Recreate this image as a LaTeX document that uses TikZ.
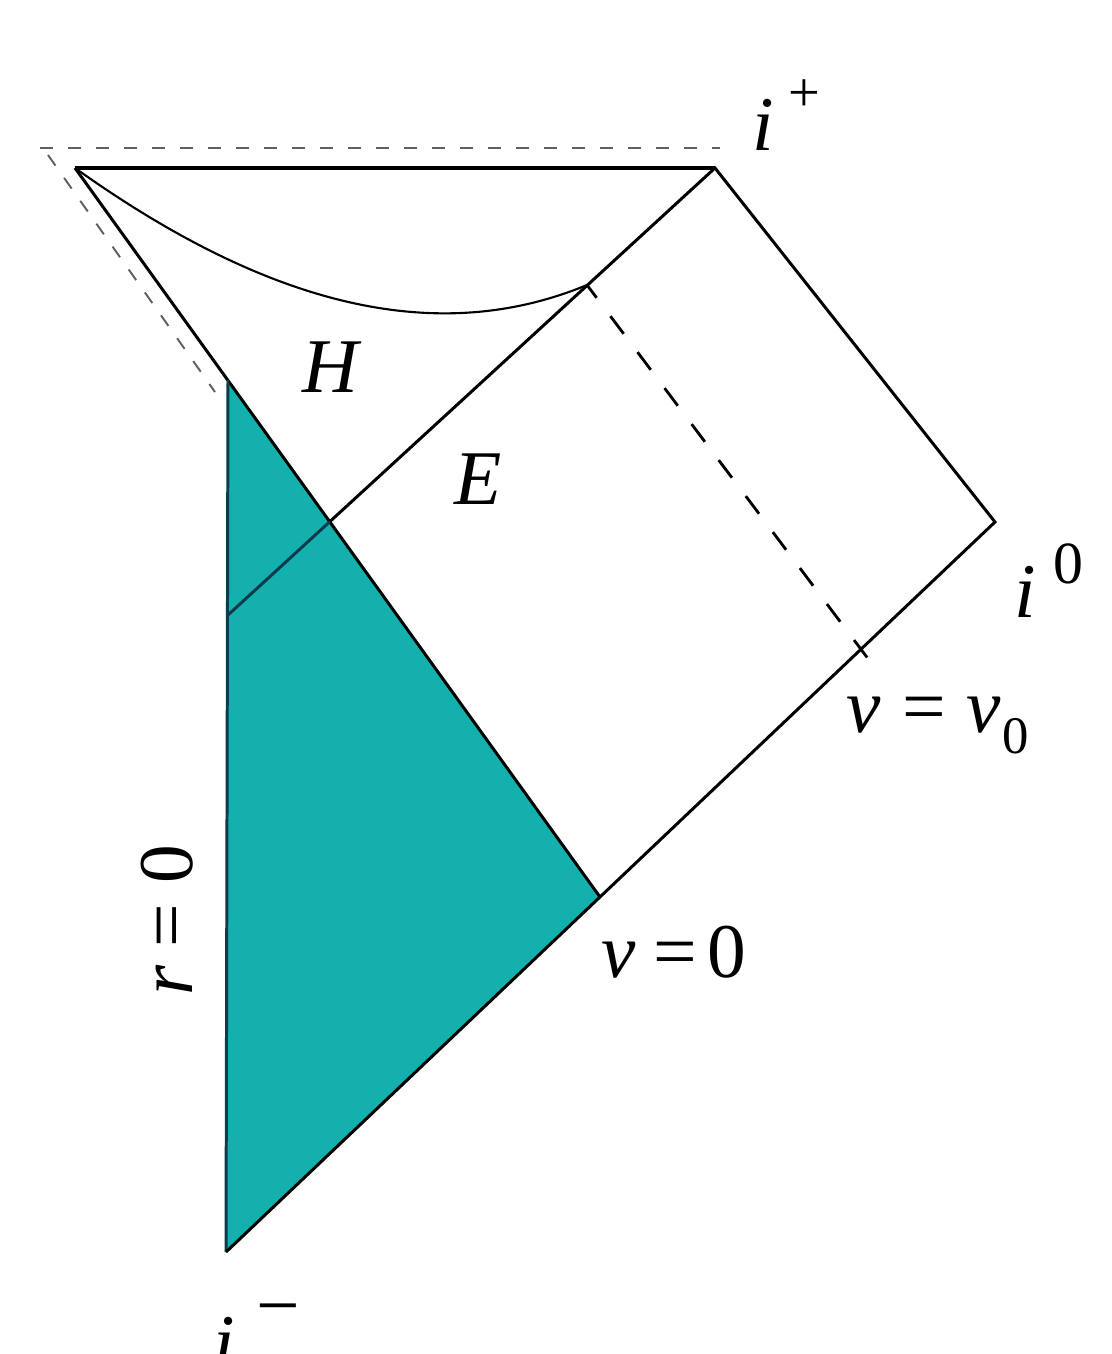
\documentclass[tikz,border=0pt]{standalone}
\usepackage{fontspec}
\setmainfont{Liberation Serif}
\usetikzlibrary{calc}
\definecolor{tealfill}{RGB}{20,176,174}
\definecolor{darkedge}{RGB}{12,60,75}
\definecolor{guide}{RGB}{95,95,95}
\begin{document}
\begin{tikzpicture}[x=0.01cm,y=-0.01cm,
  lbl/.style={font=\fontsize{22}{26}\selectfont, inner sep=0pt},
  main/.style={line width=0.85pt, black},
  guideline/.style={line width=0.55pt, guide, dash pattern=on 0.13cm off 0.15cm},
  ray/.style={line width=0.8pt, black, dash pattern=on 0.22cm off 0.23cm, dash phase=0.06cm}]
\useasboundingbox (0,0) rectangle (1111,1354);
\clip (0,0) rectangle (1111,1354);
% key points
\coordinate (A) at (75,168);
\coordinate (Ip) at (715,168);
\coordinate (Iz) at (995,522);
\coordinate (Im) at (226,1252);
\coordinate (S) at (228,380);
\coordinate (V0) at (600,897);
\coordinate (Eb) at (228,615);
\coordinate (Ec) at (587,285);
\coordinate (Tk) at (860,648);
\coordinate (Dl) at (40,148);
\coordinate (Dr) at (720,148);
\coordinate (Gt) at (48,155);
\coordinate (Gb) at (215,392);
\coordinate (X) at (intersection of A--V0 and Ip--Eb);
\coordinate (Te) at ($(Ec)!1.026!(Tk)$);
% shaded region
\fill[tealfill] (S) -- (V0) -- (Im) -- cycle;
% guide dashed lines
\draw[guideline] (Dl) -- (Dr);
\draw[guideline] (Gt) -- (Gb);
% main lines
\draw[main, line width=1.2pt] (A) -- (Ip);
\draw[main] (A) -- (V0);
\draw[main, darkedge] (S) -- (Im);
\draw[main] (Im) -- (Iz) -- (Ip) -- (X);
\draw[main, darkedge] (X) -- (Eb);
\draw[line width=0.6pt] (A) .. controls (260,300) and (430,350) .. (Ec);
\draw[ray] (Ec) -- (Te);
% labels
\node[lbl, anchor=base west] (ip) at (752,150) {\textit{i}\hspace{4pt}\raisebox{11pt}{\fontsize{16}{16}\selectfont +}};
\node[lbl, anchor=base west] (iz) at (1014,617) {\textit{i}\hspace{5pt}\raisebox{9.6pt}{\fontsize{17}{17}\selectfont 0}};
\node[lbl] (H) at (332,367) {\textit{H}};
\node[lbl] (E) at (478,479) {\textit{E}};
\node[lbl, anchor=base west] (vv0) at (846,732) {\textit{v}\hspace{6pt}=\hspace{6pt}\textit{v}\hspace{0.5pt}\raisebox{-6pt}{\fontsize{15}{15}\selectfont 0}};
\node[lbl, anchor=base west] (v0) at (601,977) {\textit{v}\hspace{5pt}=\hspace{3pt}0};
\node[lbl, rotate=90, anchor=base] (r0) at (192,920) {\textit{r}\hspace{5pt}=\hspace{6pt}0};
\node[lbl, anchor=base west] (im) at (213,1368) {\textit{i}\hspace{6pt}\raisebox{10.3pt}{−}};
\end{tikzpicture}
\end{document}
